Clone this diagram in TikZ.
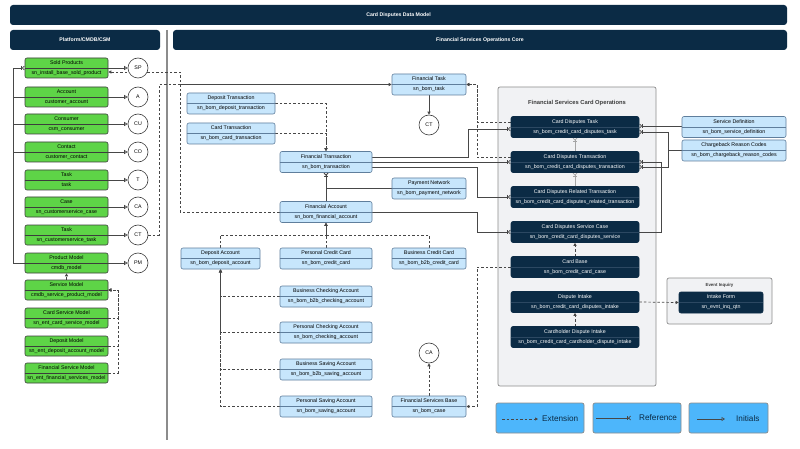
\documentclass[tikz,border=0pt]{standalone}
\usepackage{fontspec}
\setmainfont{Liberation Sans}
\usetikzlibrary{arrows.meta}

\newlength{\du}
\setlength{\du}{1pt}

\definecolor{navy}{HTML}{0B2B45}
\definecolor{navyline}{HTML}{2C4862}
\definecolor{cmgreen}{HTML}{5ED447}
\definecolor{boxedge}{HTML}{3C3C3C}
\definecolor{lightblue}{HTML}{C7E6FC}
\definecolor{blueedge}{HTML}{5F7E9C}
\definecolor{opsgray}{HTML}{F1F2F4}
\definecolor{opsedge}{HTML}{8C8C8C}
\definecolor{legblue}{HTML}{4DB6FB}
\definecolor{wire}{HTML}{474747}
\definecolor{softwire}{HTML}{A5A5A5}

\pgfdeclarelayer{back}
\pgfdeclarelayer{wires}
\pgfsetlayers{back,wires,main}

\tikzset{
  tblbox/.style={rounded corners=2\du, line width=0.6\du, inner sep=0pt, align=center,
    font=\fontsize{5.3}{10}\selectfont, minimum height=21\du},
  greenbox/.style={tblbox, draw=boxedge, fill=cmgreen, minimum width=83\du, minimum height=20\du},
  bluebox/.style={tblbox, draw=blueedge, fill=lightblue},
  darkbox/.style={tblbox, draw=navy, fill=navy, text=white, minimum width=128\du},
  initcircle/.style={circle, draw=boxedge, fill=white, line width=0.6\du, minimum size=20\du,
    inner sep=0pt, font=\fontsize{5.3}{6}\selectfont},
  banner/.style={rounded corners=3\du, fill=navy, text=white, inner sep=0pt,
    font=\bfseries\fontsize{5.2}{6}\selectfont, minimum height=20\du},
  opsbox/.style={draw=opsedge, fill=opsgray, line width=0.7\du, rounded corners=2\du},
  legendbox/.style={draw=opsedge, fill=legblue, line width=0.7\du, rounded corners=2\du,
    minimum height=30\du},
  legtext/.style={inner sep=0pt, anchor=west, font=\fontsize{8.2}{9}\selectfont, text=navy},
  link/.style={draw=wire, line width=0.7\du},
  dashlink/.style={link, dash pattern=on 2.5\du off 2\du},
  extarrow/.style={dashlink, -{Triangle[length=3pt,width=3pt]}},
  refline/.style={link, -{Bar[width=4pt]Straight Barb[reversed,length=2pt,width=4pt]}},
  initarrow/.style={link, -{Triangle[open,length=3.5pt,width=4pt]}},
  gdiv/.style={draw=boxedge, line width=0.5\du},
  bdiv/.style={draw=blueedge, line width=0.5\du},
  ddiv/.style={draw=navyline, line width=0.5\du},
}

\begin{document}
\begin{tikzpicture}[x=1\du,y=-1\du]
\useasboundingbox (0,0) rectangle (800,449);

\begin{pgfonlayer}{back}
\fill[white] (0,0) rectangle (800,449);
\draw[draw=opsedge, line width=1.1\du] (167,30) -- (167,440);
\node[opsbox, minimum width=158\du, minimum height=299\du] (cardops) at (577,236.5) {};
\node[opsbox, minimum width=105\du, minimum height=46\du] (evinq) at (719.5,301) {};
\end{pgfonlayer}

% headers
\node[banner, minimum width=777\du] (title) at (398.5,15) {Card Disputes Data Model};
\node[banner, minimum width=150\du] (platform) at (85,40) {Platform/CMDB/CSM};
\node[banner, minimum width=614\du] (core) at (480,40) {Financial Services Operations Core};

% platform tables
\node[greenbox] (sold) at (66.5,68) {Sold Products\\sn\_install\_base\_sold\_product};
\node[greenbox] (acct) at (66.5,97) {Account\\customer\_account};
\node[greenbox] (cons) at (66.5,124) {Consumer\\csm\_consumer};
\node[greenbox] (cont) at (66.5,152) {Contact\\customer\_contact};
\node[greenbox] (task) at (66.5,180) {Task\\task};
\node[greenbox] (case) at (66.5,207) {Case\\sn\_customerservice\_case};
\node[greenbox] (cstask) at (66.5,235) {Task\\sn\_customerservice\_task};
\node[greenbox] (pmod) at (66.5,263) {Product Model\\cmdb\_model};
\node[greenbox] (svcmod) at (66.5,290) {Service Model\\cmdb\_service\_product\_model};
\node[greenbox] (csmod) at (66.5,318) {Card Service Model\\sn\_ent\_card\_service\_model};
\node[greenbox] (depmod) at (66.5,346) {Deposit Model\\sn\_ent\_deposit\_account\_model};
\node[greenbox] (fsmod) at (66.5,373) {Financial Service Model\\sn\_ent\_financial\_services\_model};
\draw[gdiv] (sold.west) -- (sold.east);
\draw[gdiv] (acct.west) -- (acct.east);
\draw[gdiv] (cons.west) -- (cons.east);
\draw[gdiv] (cont.west) -- (cont.east);
\draw[gdiv] (task.west) -- (task.east);
\draw[gdiv] (case.west) -- (case.east);
\draw[gdiv] (cstask.west) -- (cstask.east);
\draw[gdiv] (pmod.west) -- (pmod.east);
\draw[gdiv] (svcmod.west) -- (svcmod.east);
\draw[gdiv] (csmod.west) -- (csmod.east);
\draw[gdiv] (depmod.west) -- (depmod.east);
\draw[gdiv] (fsmod.west) -- (fsmod.east);

% initials
\node[initcircle] (sp) at (138,68) {SP};
\node[initcircle] (ia) at (138,97) {A};
\node[initcircle] (icu) at (138,124) {CU};
\node[initcircle] (ico) at (138,152) {CO};
\node[initcircle] (it) at (138,180) {T};
\node[initcircle] (ica) at (138,207) {CA};
\node[initcircle] (ict) at (138,235) {CT};
\node[initcircle] (ipm) at (138,263) {PM};

% financial services core
\node[bluebox, minimum width=74\du] (ftask) at (429,84.5) {Financial Task\\sn\_bom\_task};
\node[bluebox, minimum width=88\du] (dtrans) at (231,103.5) {Deposit Transaction\\sn\_bom\_deposit\_transaction};
\node[bluebox, minimum width=88\du] (ctrans) at (231,133.5) {Card Transaction\\sn\_bom\_card\_transaction};
\node[bluebox, minimum width=92\du] (fintrans) at (326,162) {Financial Transaction\\sn\_bom\_transaction};
\node[bluebox, minimum width=74\du] (paynet) at (429,188.5) {Payment Network\\sn\_bom\_payment\_network};
\node[bluebox, minimum width=92\du] (finacct) at (326,212) {Financial Account\\sn\_bom\_financial\_account};
\node[bluebox, minimum width=79\du] (depacct) at (220.5,258.5) {Deposit Account\\sn\_bom\_deposit\_account};
\node[bluebox, minimum width=92\du] (pcc) at (326,258.5) {Personal Credit Card\\sn\_bom\_credit\_card};
\node[bluebox, minimum width=74\du] (bcc) at (429,258.5) {Business Credit Card\\sn\_bom\_b2b\_credit\_card};
\node[bluebox, minimum width=92\du] (bchk) at (326,296.5) {Business Checking Account\\sn\_bom\_b2b\_checking\_account};
\node[bluebox, minimum width=92\du] (pchk) at (326,332.5) {Personal Checking Account\\sn\_bom\_checking\_account};
\node[bluebox, minimum width=92\du] (bsav) at (326,369.5) {Business Saving Account\\sn\_bom\_b2b\_saving\_account};
\node[bluebox, minimum width=92\du] (psav) at (326,406.5) {Personal Saving Account\\sn\_bom\_saving\_account};
\node[bluebox, minimum width=74\du] (fsbase) at (429,406.5) {Financial Services Base\\sn\_bom\_case};
\node[bluebox, minimum width=104\du] (svcdef) at (734,127) {Service Definition\\sn\_bom\_service\_definition};
\node[bluebox, minimum width=104\du] (cbcodes) at (734,150.5) {Chargeback Reason Codes\\sn\_bom\_chargeback\_reason\_codes};
\foreach \n in {ftask,dtrans,ctrans,fintrans,paynet,finacct,depacct,pcc,bcc,bchk,pchk,bsav,psav,fsbase,svcdef,cbcodes}
  \draw[bdiv] (\n.west) -- (\n.east);
\node[initcircle] (ct2) at (429,125) {CT};
\node[initcircle] (ca2) at (429,353) {CA};

% card operations
\node[font=\bfseries\fontsize{5.8}{7}\selectfont, text=boxedge] (opstitle) at (577,103) {Financial Services Card Operations};
\node[darkbox] (cdtask) at (575,127) {Card Disputes Task\\sn\_bom\_credit\_card\_disputes\_task};
\node[darkbox] (cdtrans) at (575,162) {Card Disputes Transaction\\sn\_bom\_credit\_card\_disputes\_transaction};
\node[darkbox] (cdrel) at (575,197) {Card Disputes Related Transaction\\sn\_bom\_credit\_card\_disputes\_related\_transaction};
\node[darkbox] (cdcase) at (575,232) {Card Disputes Service Case\\sn\_bom\_credit\_card\_disputes\_service};
\node[darkbox] (cbase) at (575,267) {Card Base\\sn\_bom\_credit\_card\_case};
\node[darkbox] (dintake) at (575,302) {Dispute Intake\\sn\_bom\_credit\_card\_disputes\_intake};
\node[darkbox] (chintake) at (575,337) {Cardholder Dispute Intake\\sn\_bom\_credit\_card\_cardholder\_dispute\_intake};
\node[font=\bfseries\fontsize{4.4}{5}\selectfont, text=boxedge] (evlbl) at (719.5,285) {Event Inquiry};
\node[darkbox, minimum width=84\du] (intake) at (721,302.5) {Intake Form\\sn\_evnt\_inq\_qtn};
\foreach \n in {cdtask,cdtrans,cdrel,cdcase,cbase,dintake,chintake,intake}
  \draw[ddiv] (\n.west) -- (\n.east);

\coordinate (ftjoin) at (180,84.5);

\begin{pgfonlayer}{wires}
% platform
\draw[initarrow] (sold.east) -- (sp.west);
\draw[initarrow] (acct.east) -- (ia.west);
\draw[initarrow] (cons.east) -- (icu.west);
\draw[initarrow] (cont.east) -- (ico.west);
\draw[initarrow] (task.east) -- (it.west);
\draw[initarrow] (case.east) -- (ica.west);
\draw[initarrow] (cstask.east) -- (ict.west);
\draw[initarrow] (pmod.east) -- (ipm.west);
\draw[refline] (pmod.west) -- (13,263) -- (13,68) -- (sold.west);
\draw[link] (13,97) -- (acct.west);
\draw[link] (13,124) -- (cons.west);
\draw[link] (13,152) -- (cont.west);
\draw[extarrow] (svcmod.north) -- (pmod.south);
\draw[extarrow] (csmod.east) -- (118,318) |- (svcmod.east);
\draw[extarrow] (depmod.east) -- (118,346) |- (svcmod.east);
\draw[extarrow] (fsmod.east) -- (118,373) |- (svcmod.east);
% core
\draw[dashlink] (ict.east) -- (159,235) |- (ftjoin);
\draw[link, -{Triangle[length=3pt,width=3pt]}] (ftjoin) -- (ftask.west);
\draw[extarrow] (finacct.west) -- (180,212) -- (180,72) -- ([yshift=-4\du]sold.east);
\draw[link, -{Triangle[length=3pt,width=3pt]}] (ftask.south) -- (ct2.north);
\draw[extarrow] (dtrans.east) -| (fintrans.north);
\draw[extarrow] (ctrans.east) -| (fintrans.north);
\draw[refline] (finacct.north) -- (fintrans.south);
\draw[refline] (paynet.west) -| (fintrans.south);
\draw[extarrow] (pcc.north) -- (finacct.south);
\draw[extarrow] (depacct.north) |- (326,235) -- (finacct.south);
\draw[extarrow] (bcc.north) |- (326,235) -- (finacct.south);
\draw[extarrow] (bchk.west) -| (depacct.south);
\draw[extarrow] (pchk.west) -| (depacct.south);
\draw[extarrow] (bsav.west) -| (depacct.south);
\draw[extarrow] (psav.west) -| (depacct.south);
\draw[extarrow] (fsbase.north) -- (ca2.south);
% to card operations
\draw[refline] ([yshift=5\du]fintrans.east) -- (468,157) -- (468,129) -- ([yshift=-2\du]cdtask.west);
\draw[refline] (fintrans.east) -- (cdtrans.west);
\draw[refline] ([yshift=-5\du]fintrans.east) -- (477,167) -- (477,197) -- (cdrel.west);
\draw[refline] (finacct.east) -- (477,212) -- (477,232) -- (cdcase.west);
\draw[extarrow] ([yshift=5\du]cdtask.west) -- (477,122) -- (477,84.5) -- (ftask.east);
\draw[extarrow] ([yshift=5\du]cdtrans.west) -- (477,157) -- (477,84.5) -- (ftask.east);
\draw[extarrow] (cbase.west) -- (477,267) -- (477,406.5) -- (fsbase.east);
\draw[refline, draw=softwire] (cdtrans.north) -- (cdtask.south);
\draw[refline, draw=softwire] (cdrel.north) -- (cdtrans.south);
\draw[extarrow] (cbase.north) -- (cdcase.south);
\draw[extarrow] (chintake.north) -- (dintake.south);
\draw[extarrow] (dintake.east) -- (intake.west);
\draw[refline] ([yshift=1\du]svcdef.west) -- ([yshift=1\du]cdtask.east);
\draw[refline] (cbcodes.west) -- (668,150.5) -- (668,132) -- ([yshift=-5\du]cdtask.east);
\draw[refline] (cbcodes.west) -- (668,150.5) -- (668,167) -- ([yshift=-5\du]cdtrans.east);
\draw[refline] (cdcase.east) -- (661,232) -- (661,162) -- (cdtrans.east);
\end{pgfonlayer}

% legend
\node[legendbox, minimum width=88\du] (legext) at (540,418) {};
\node[legendbox, minimum width=88\du] (legref) at (637,418) {};
\node[legendbox, minimum width=79\du] (leginit) at (728.5,418) {};
\node[legtext] (extlbl) at (542,419) {Extension};
\node[legtext] (reflbl) at (639,418) {Reference};
\node[legtext] (initlbl) at (736,419) {Initials};
\coordinate (exta) at (502,419);
\coordinate (refa) at (596,418);
\coordinate (inita) at (697,419);
\draw[extarrow] (exta) -- ([xshift=-4\du]extlbl.west);
\draw[refline] (refa) -- ([xshift=-8\du]reflbl.west);
\draw[initarrow] (inita) -- ([xshift=-11\du]initlbl.west);
\end{tikzpicture}
\end{document}
